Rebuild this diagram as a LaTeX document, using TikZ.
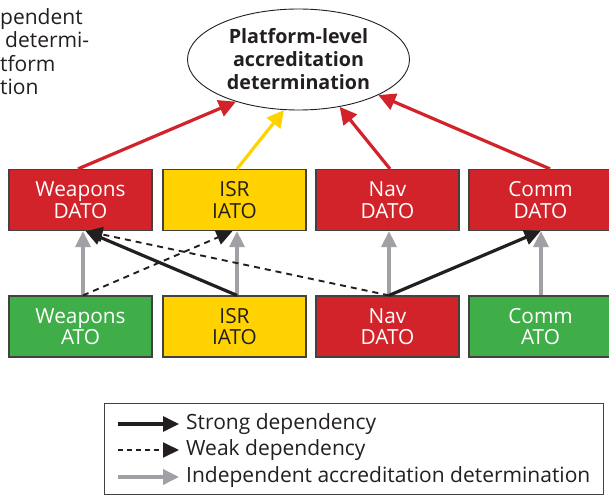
\documentclass[tikz,border=0pt]{standalone}
\usepackage{fontspec}
\setmainfont{Open Sans}
\usetikzlibrary{shapes.geometric,arrows.meta}
\definecolor{myred}{HTML}{D2232A}
\definecolor{myyellow}{HTML}{FFD200}
\definecolor{mygreen}{HTML}{3FAE49}
\definecolor{mygray}{HTML}{A0A1A4}
\definecolor{mytext}{HTML}{231F20}
\tikzset{
  box/.style={draw=mytext!85, line width=1.2pt, minimum width=143pt, minimum height=61pt,
    inner sep=0pt, align=center, font=\fontsize{20.8}{21.5}\selectfont},
  redbox/.style={box, fill=myred, text=white},
  yellowbox/.style={box, fill=myyellow, text=mytext},
  greenbox/.style={box, fill=mygreen, text=white},
  toparrow/.style={line width=3.2pt, -{Triangle[length=17pt,width=17pt]}},
  grayarrow/.style={draw=mygray, line width=3.5pt, -{Triangle[length=16pt,width=15pt]}},
  strongarrow/.style={draw=mytext, line width=3.2pt, -{Triangle[length=16pt,width=15pt]}},
  weakarrow/.style={draw=mytext, line width=1.9pt, dash pattern=on 6pt off 5pt, -{Triangle[length=16pt,width=15pt]}},
  plain/.style={inner sep=0pt, anchor=base west, text=mytext, font=\fontsize{21}{23}\selectfont},
}
\begin{document}
\begin{tikzpicture}[x=1pt,y=-1pt]
\useasboundingbox (0,0) rectangle (609,497);
\clip (0,0) rectangle (609,497);
\fill[white] (0,0) rectangle (609,497);

% cut-off text at top left
\node[plain] (t1) at (0,25) {pendent};
\node[plain] (t2) at (5,48) {determi-};
\node[plain] (t3) at (0,72) {tform};
\node[plain] (t4) at (0,95) {tion};

% ellipse
\node[ellipse, draw=mytext, line width=0.9pt, minimum width=222pt, minimum height=101pt,
  inner sep=0pt, align=center, text=mytext, font=\bfseries\fontsize{19.7}{23}\selectfont]
  (plat) at (298.5,59.5) {Platform-level\\accreditation\\determination};

% top row
\node[redbox] (wd) at (80.5,200) {Weapons\\DATO};
\node[yellowbox] (it) at (234.5,200) {ISR\\IATO};
\node[redbox] (nd) at (387.5,200) {Nav\\DATO};
\node[redbox] (cd) at (540.5,200) {Comm\\DATO};

% bottom row
\node[greenbox] (wa) at (80.5,326.5) {Weapons\\ATO};
\node[yellowbox] (ib) at (234.5,326.5) {ISR\\IATO};
\node[redbox] (nb) at (387.5,326.5) {Nav\\DATO};
\node[greenbox] (ca) at (540.5,326.5) {Comm\\ATO};

% arrows to platform
\draw[toparrow, myred] ([xshift=-2.5pt]wd.north) -- (plat.214);
\draw[toparrow, myyellow] ([xshift=2.5pt]it.north) -- (plat.254);
\draw[toparrow, myred] ([xshift=2.5pt]nd.north) -- (plat.311);
\draw[toparrow, myred] ([xshift=9.5pt]cd.north) -- (plat.336);

% independent (gray)
\draw[grayarrow] ([xshift=2.5pt]wa.north) -- ([xshift=2.5pt]wd.south);
\draw[grayarrow] ([xshift=2.5pt]ib.north) -- ([xshift=2.5pt]it.south);
\draw[grayarrow] ([xshift=1.5pt]nb.north) -- ([xshift=1.5pt]nd.south);
\draw[grayarrow] ([xshift=0.5pt]ca.north) -- ([xshift=0.5pt]cd.south);

% weak
\draw[weakarrow] ([xshift=2.5pt]wa.north) -- ([xshift=-2pt]it.south);
\draw[weakarrow] ([xshift=1.5pt]nb.north) -- ([xshift=6pt]wd.south);

% strong
\draw[strongarrow] ([xshift=2.5pt]ib.north) -- ([xshift=5pt]wd.south);
\draw[strongarrow] ([xshift=1.5pt]nb.north) -- ([xshift=0pt]cd.south);

% legend
\node[draw=mytext!85, line width=1pt, minimum width=499pt, minimum height=91pt, inner sep=0pt,
  anchor=north west] (leg) at (104,403) {};
\coordinate (l1a) at (118,424); \coordinate (l1b) at (179,424);
\coordinate (l2a) at (118,450); \coordinate (l2b) at (179,450);
\coordinate (l3a) at (118,477); \coordinate (l3b) at (179,477);
\draw[strongarrow] (l1a) -- (l1b);
\draw[weakarrow, dash pattern=on 5pt off 4pt] (l2a) -- (l2b);
\draw[grayarrow] (l3a) -- (l3b);
\node[plain, anchor=west] (s1) at (186,424) {Strong dependency};
\node[plain, anchor=west] (s2) at (186,450) {Weak dependency};
\node[plain, anchor=west] (s3) at (186,477) {Independent accreditation determination};
\end{tikzpicture}
\end{document}
